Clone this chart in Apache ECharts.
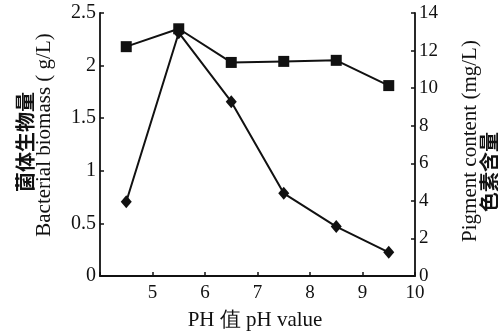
<!DOCTYPE html>
<html><head><meta charset="utf-8">
<script src="https://cdn.jsdelivr.net/npm/echarts@6/dist/echarts.min.js"></script>
<style>html,body{margin:0;padding:0;background:#fff;}#c{width:498px;height:331px;}</style>
</head><body><div id="c"></div>
<script>
var phValues = [4.5, 5.5, 6.5, 7.5, 8.5, 9.5];
var biomass = [2.18, 2.35, 2.03, 2.04, 2.05, 1.81];
var pigment = [3.95, 12.95, 9.28, 4.40, 2.63, 1.26];
var leftTitleCn = '菌体生物量';
var leftTitleEn = 'Bacterial biomass ( g/L)';
var rightTitleEn = 'Pigment content (mg/L)';
var rightTitleCn = '色素含量';
var xTitle = 'PH 值 pH value';

var serif = '"Liberation Serif", "Times New Roman", serif';
var cjk = '"Noto Sans CJK SC", sans-serif';
function pairs(xs, ys){ return xs.map(function(x,i){ return [x, ys[i]]; }); }

var chart = echarts.init(document.getElementById('c'));
chart.setOption({
  animation: false,
  backgroundColor: '#fff',
  grid: {left: 100, right: 83, top: 13, bottom: 55},
  xAxis: {
    type: 'value', min: 4, max: 10, interval: 1,
    axisLine: {show: true, lineStyle: {color: '#111', width: 1.8}},
    axisTick: {show: true, inside: true, length: 4, lineStyle: {color: '#111', width: 1.5}},
    splitLine: {show: false},
    axisLabel: {color: '#111', fontFamily: serif, fontSize: 19, margin: 8,
      formatter: function(v){ return v === 4 ? '' : String(v); }}
  },
  yAxis: [{
    type: 'value', min: 0, max: 2.5, interval: 0.5, position: 'left',
    axisLine: {show: true, lineStyle: {color: '#111', width: 1.8}},
    axisTick: {show: true, inside: true, length: 4, lineStyle: {color: '#111', width: 1.5}},
    splitLine: {show: false},
    axisLabel: {color: '#111', fontFamily: serif, fontSize: 20, margin: 4}
  }, {
    type: 'value', min: 0, max: 14, interval: 2, position: 'right',
    axisLine: {show: true, lineStyle: {color: '#111', width: 1.8}},
    axisTick: {show: true, inside: true, length: 4, lineStyle: {color: '#111', width: 1.5}},
    splitLine: {show: false},
    axisLabel: {color: '#111', fontFamily: serif, fontSize: 19, margin: 4}
  }],
  series: [{
    type: 'line', yAxisIndex: 0, data: pairs(phValues, biomass),
    symbol: 'rect', symbolSize: 11,
    lineStyle: {color: '#111', width: 2},
    itemStyle: {color: '#111'}
  }, {
    type: 'line', yAxisIndex: 1, data: pairs(phValues, pigment),
    symbol: 'diamond', symbolSize: [11, 13],
    lineStyle: {color: '#111', width: 2},
    itemStyle: {color: '#111'}
  }],
  graphic: [
    {type: 'text', x: 25, y: 142, rotation: Math.PI/2,
      style: {text: leftTitleCn, fontFamily: cjk, fontWeight: 'bold', fontSize: 20, fill: '#111', align: 'center', verticalAlign: 'middle'}},
    {type: 'text', x: 44, y: 135, rotation: Math.PI/2,
      style: {text: leftTitleEn, fontFamily: serif, fontSize: 21, fill: '#111', align: 'center', verticalAlign: 'middle'}},
    {type: 'text', x: 470, y: 141, rotation: Math.PI/2,
      style: {text: rightTitleEn, fontFamily: serif, fontSize: 21, fill: '#111', align: 'center', verticalAlign: 'middle'}},
    {type: 'text', x: 489, y: 172, rotation: Math.PI/2,
      style: {text: rightTitleCn, fontFamily: cjk, fontWeight: 'bold', fontSize: 20, fill: '#111', align: 'center', verticalAlign: 'middle'}},
    {type: 'text', x: 255, y: 320,
      style: {text: xTitle, fontFamily: serif, fontSize: 21, fill: '#111', align: 'center', verticalAlign: 'middle'}}
  ]
});
</script></body></html>
